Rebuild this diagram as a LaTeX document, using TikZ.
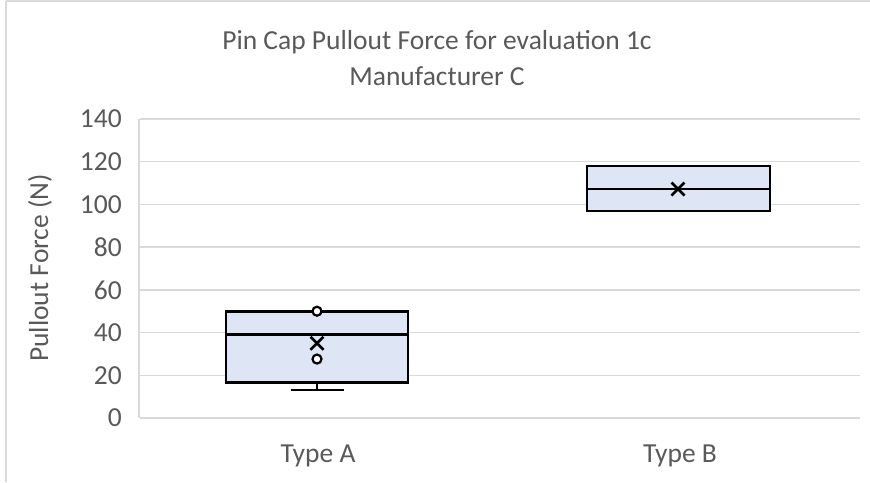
\documentclass[tikz,border=0pt]{standalone}
\usepackage{fontspec}
\setmainfont{Carlito}
\definecolor{txt}{HTML}{595959}
\definecolor{grid}{HTML}{D9D9D9}
\definecolor{boxfill}{HTML}{DEE6F5}
\tikzset{
  gridline/.style={draw=grid, line width=1.5pt},
  boxline/.style={draw=black, line width=2.8pt, fill=boxfill},
  whisker/.style={draw=black, line width=2.8pt},
  labelfont/.style={text=txt, font=\fontsize{27.5}{36}\selectfont},
  ticklabel/.style={labelfont, anchor=east, inner sep=0pt},
  catlabel/.style={labelfont, inner sep=0pt},
  outlier/.style={circle, draw=black, fill=white, line width=2.2pt, minimum size=9pt, inner sep=0pt},
  meanmark/.style={draw=black, line width=2.6pt}
}
\begin{document}
\begin{tikzpicture}[x=1pt,y=-1pt]
\useasboundingbox (0,0) rectangle (870,482);
% chart frame (top and left edges)
\draw[gridline] (6,1) -- (870,1);
\draw[gridline] (6,1) -- (6,482);
% title
\node[labelfont, align=center] (title) at (437,58)
  {Pin Cap Pullout Force for evaluation 1c\\Manufacturer C};
% value axis title
\node[labelfont, rotate=90] (ytitle) at (40,268) {Pullout Force (N)};
\begin{scope}[shift={(0,418)}, y=2.1357pt]
  % gridlines and tick labels
  \foreach \v in {0,20,...,140} {
    \draw[gridline] (140,\v) -- (860,\v);
    \node[ticklabel] (tick\v) at (122,\v) {\v};
  }
  \draw[gridline] (139,0) -- (139,140);
  % Type A
  \draw[whisker] (317,16.8) -- (317,13.1);
  \draw[whisker] (291,13.1) -- (344,13.1);
  \draw[boxline] (226,16.8) rectangle (408,50);
  \draw[whisker] (226,39.2) -- (408,39.2);
  \draw[meanmark] (317,35) ++(-6.5pt,-6.5pt) -- ++(13pt,13pt)
                  (317,35) ++(-6.5pt,6.5pt) -- ++(13pt,-13pt);
  \node[outlier] (outA1) at (317,50) {};
  \node[outlier] (outA2) at (317,27.6) {};
  % Type B
  \draw[boxline] (587,96.9) rectangle (770,118);
  \draw[whisker] (587,107.2) -- (770,107.2);
  \draw[meanmark] (678,107.2) ++(-6.5pt,-6.5pt) -- ++(13pt,13pt)
                  (678,107.2) ++(-6.5pt,6.5pt) -- ++(13pt,-13pt);
\end{scope}
% category labels
\node[catlabel] (catA) at (318,456) {Type A};
\node[catlabel] (catB) at (680,456) {Type B};
\end{tikzpicture}
\end{document}
